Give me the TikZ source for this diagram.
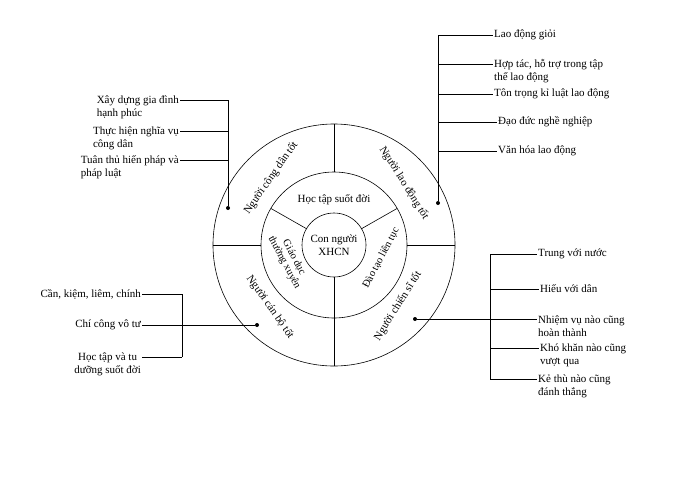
\documentclass[tikz,border=0pt]{standalone}
\usepackage{fontspec}
\setmainfont{Liberation Serif}
\usetikzlibrary{calc}
\begin{document}
\begin{tikzpicture}[x=1pt,y=-1pt,font=\fontsize{11}{13}\selectfont,
  ln/.style={line width=0.6pt},
  dot/.style={circle,fill,inner sep=0pt,minimum size=4pt},
  lt/.style={anchor=west,align=left,inner sep=1pt},
  rt/.style={anchor=east,align=left,inner sep=1pt}]
\useasboundingbox (0,0) rectangle (700,482);
\coordinate (O) at (334,245);
\draw[ln] (O) circle (121);
\draw[ln] (O) circle (73);
\draw[ln] (O) circle (32);
\draw[ln] (334,124) -- (334,172);
\draw[ln] (213,245) -- (261,245);
\draw[ln] (407,245) -- (455,245);
\draw[ln] (334,277) -- (334,366);
\draw[ln] ($(O)+(-27,-16)$) -- ($(O)+(-63,-36.5)$);
\draw[ln] ($(O)+(27,-16)$) -- ($(O)+(63,-36.5)$);
\node[align=center] (c) at (O) {Con người\\XHCN};
\node (h) at (334,200) {Học tập suốt đời};
\node[align=center,rotate=-62,font=\fontsize{10.5}{11}\selectfont] (g) at (289,260) {Giáo dục\\thường xuyên};
\node[rotate=62,font=\fontsize{10.5}{11}\selectfont] (d) at (381,258) {Đào tạo liên tục};
\node[rotate=55] (r1) at (271,178) {Người công dân tốt};
\node[rotate=-58] (r2) at (404,183) {Người lao động tốt};
\node[rotate=-55] (r3) at (270,307) {Người cán bộ tốt};
\node[rotate=58] (r4) at (398,306) {Người chiến sĩ tốt};
% left top
\node[dot] (d1) at (228,208) {};
\draw[ln] (d1) -- (228,100);
\node[rt] (a1) at (180,107) {Xây dựng gia đình\\hạnh phúc};
\node[rt] (a2) at (180,138) {Thực hiện nghĩa vụ\\công dân};
\node[rt] (a3) at (180,167) {Tuân thủ hiến pháp và\\pháp luật};
\draw[ln] (a1.east|-0,100) -- (228,100);
\draw[ln] (a2.east|-0,131) -- (228,131);
\draw[ln] (a3.east|-0,160) -- (228,160);
% right top
\node[dot] (d2) at (438,203) {};
\draw[ln] (d2) -- (438,35);
\node[lt] (b1) at (493,35) {Lao động giỏi};
\node[lt] (b2) at (493,71) {Hợp tác, hỗ trợ trong tập\\thể lao động};
\node[lt] (b3) at (493,94) {Tôn trọng kỉ luật lao động};
\node[lt] (b4) at (497,122) {Đạo đức nghề nghiệp};
\node[lt] (b5) at (497,151) {Văn hóa lao động};
\foreach \y/\n in {35/b1,64/b2,94/b3,122/b4,151/b5}
  \draw[ln] (438,\y) -- (\n.west|-0,\y);
% left bottom
\node[dot] (d3) at (257,325) {};
\node[rt] (c1) at (142,294) {Cần, kiệm, liêm, chính};
\node[rt] (c2) at (142,325) {Chí công vô tư};
\node[rt,align=center] (c3) at (142,364) {Học tập và tu\\dưỡng suốt đời};
\draw[ln] (182,294) -- (182,357);
\draw[ln] (c1.east) -- (182,294);
\draw[ln] (c2.east) -- (d3);
\draw[ln] (c3.east|-0,357) -- (182,357);
% right bottom
\node[dot] (d4) at (415,319) {};
\draw[ln] (490,254) -- (490,379);
\node[lt] (e1) at (537,254) {Trung với nước};
\node[lt] (e2) at (539,289) {Hiếu với dân};
\node[lt] (e3) at (537,326) {Nhiệm vụ nào cũng\\hoàn thành};
\node[lt] (e4) at (539,355) {Khó khăn nào cũng\\vượt qua};
\node[lt] (e5) at (537,386) {Kẻ thù nào cũng\\đánh thắng};
\draw[ln] (490,254) -- (e1.west);
\draw[ln] (490,289) -- (e2.west|-0,289);
\draw[ln] (d4) -- (e3.west|-0,319);
\draw[ln] (490,348) -- (e4.west|-0,348);
\draw[ln] (490,379) -- (e5.west|-0,379);
\end{tikzpicture}
\end{document}
